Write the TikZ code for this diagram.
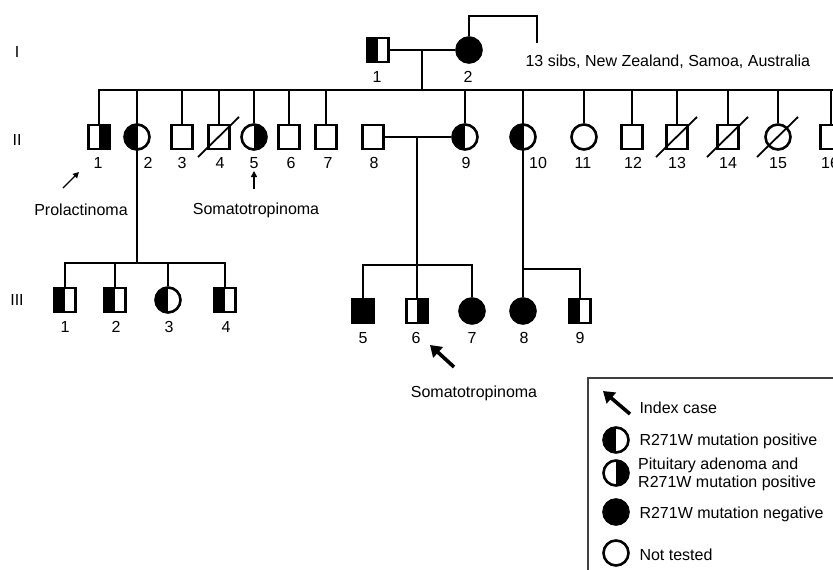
\documentclass[tikz,border=0pt]{standalone}
\usepackage{fontspec}
\setmainfont{Liberation Sans}
\usetikzlibrary{arrows.meta}
\begin{document}
\begin{tikzpicture}[x=1pt,y=-1pt,
  every node/.style={font=\fontsize{16}{18}\selectfont},
  sym/.style={draw=black,line width=2.6pt,inner sep=0pt},
  sq/.style={sym,rectangle,minimum width=21pt,minimum height=24pt},
  ci/.style={sym,circle,minimum size=25pt},
  lhalf/.style={path picture={\fill[black] (path picture bounding box.south west) rectangle (path picture bounding box.north);}},
  rhalf/.style={path picture={\fill[black] (path picture bounding box.south) rectangle (path picture bounding box.north east);}},
  full/.style={fill=black},
  ln/.style={line width=2.2pt},
  slash/.style={line width=1.8pt},
  smallarrow/.style={line width=1.4pt,-{Triangle[length=6pt,width=6pt]}},
  bigarrow/.style={line width=3.6pt,-{Triangle[length=11pt,width=14pt]}},
  legline/.style={line width=2pt,draw=black!75},
]
\useasboundingbox (0,0) rectangle (833,570);

% generation labels
\node (gI) at (17,52) {I};
\node (gII) at (17,140) {II};
\node (gIII) at (17,300) {III};

% ---------- generation I ----------
\node[sq,lhalf] (I1) at (378,50) {};
\node[ci,full] (I2) at (469,50) {};
\node (lI1) at (377,77) {1};
\node (lI2) at (468,77) {2};
\coordinate (mI) at (422,50);
\coordinate (sibL) at (98,90);
\coordinate (sibR) at (840,90);
\coordinate (dI) at (422,90);
\coordinate (sI1) at (469,16);
\coordinate (sI2) at (537,16);
\coordinate (sI3) at (537,43);
\draw[ln] (I1.east) -- (I2.west);
\draw[ln] (mI) -- (dI);
\draw[ln] (I2.north) -- (sI1) -- (sI2) -- (sI3);
\node[anchor=west] (sibs) at (522,62) {13 sibs, New Zealand, Samoa, Australia};

% ---------- generation II ----------
\node[sq,rhalf] (II1) at (99,137) {};
\node[ci,lhalf] (II2) at (137,137) {};
\node[sq] (II3) at (182,137) {};
\node[sq] (II4) at (219,137) {};
\node[ci,rhalf] (II5) at (254,137) {};
\node[sq] (II6) at (289,137) {};
\node[sq] (II7) at (326,137) {};
\node[sq] (II8) at (373,137) {};
\node[ci,lhalf] (II9) at (465,137) {};
\node[ci,lhalf] (II10) at (523,137) {};
\node[ci] (II11) at (584,137) {};
\node[sq] (II12) at (632,137) {};
\node[sq] (II13) at (677,137) {};
\node[sq] (II14) at (728,137) {};
\node[ci] (II15) at (778,137) {};
\node[sq] (II16) at (831,137) {};

\draw[ln] (sibL) -- (sibR);
\draw[ln] (II1.north) -- (II1.north |- sibL);
\draw[ln] (II3.north) -- (II3.north |- sibL);
\draw[ln] (II4.north) -- (II4.north |- sibL);
\draw[ln] (II5.north) -- (II5.north |- sibL);
\draw[ln] (II6.north) -- (II6.north |- sibL);
\draw[ln] (II7.north) -- (II7.north |- sibL);
\draw[ln] (II9.north) -- (II9.north |- sibL);
\draw[ln] (II11.north) -- (II11.north |- sibL);
\draw[ln] (II12.north) -- (II12.north |- sibL);
\draw[ln] (II13.north) -- (II13.north |- sibL);
\draw[ln] (II14.north) -- (II14.north |- sibL);
\draw[ln] (II15.north) -- (II15.north |- sibL);
\draw[ln] (II16.north) -- (II16.north |- sibL);

% deceased slashes
\draw[slash] (II4.center) ++(-21,20) -- ++(41,-40);
\draw[slash] (II13.center) ++(-21,20) -- ++(41,-40);
\draw[slash] (II14.center) ++(-21,20) -- ++(41,-40);
\draw[slash] (II15.center) ++(-21,20) -- ++(41,-40);

% labels II
\node (lII1) at (98,163) {1};
\node (lII2) at (148,163) {2};
\node (lII3) at (182,163) {3};
\node (lII4) at (220,163) {4};
\node (lII5) at (254,163) {5};
\node (lII6) at (291,163) {6};
\node (lII7) at (328,163) {7};
\node (lII8) at (374,163) {8};
\node (lII9) at (466,163) {9};
\node (lII10) at (538,163) {10};
\node (lII11) at (583,163) {11};
\node (lII12) at (633,163) {12};
\node (lII13) at (677,163) {13};
\node (lII14) at (728,163) {14};
\node (lII15) at (778,163) {15};
\node (lII16) at (830,163) {16};

% pointers
\coordinate (pa1) at (63,188);
\coordinate (pa2) at (79,172);
\draw[smallarrow] (pa1) -- (pa2);
\coordinate (pb1) at (254,189);
\coordinate (pb2) at (254,171);
\draw[smallarrow] (pb1) -- (pb2);
\node (prol) at (81,210) {Prolactinoma};
\node (soma1) at (256,210) {Somatotropinoma};

% ---------- generation III, left family ----------
\node[sq,lhalf] (III1) at (65,300) {};
\node[sq,lhalf] (III2) at (115,300) {};
\node[ci,lhalf] (III3) at (168,300) {};
\node[sq,lhalf] (III4) at (225,300) {};
\coordinate (d2) at (137,263);
\draw[ln] (II2.north |- sibL) -- (d2);
\draw[ln] (III1.north) -- (III1.north |- d2) -- (III4.north |- d2) -- (III4.north);
\draw[ln] (III2.north) -- (III2.north |- d2);
\draw[ln] (III3.north) -- (III3.north |- d2);
\node (lIII1) at (65,327) {1};
\node (lIII2) at (116,327) {2};
\node (lIII3) at (169,327) {3};
\node (lIII4) at (226,327) {4};

% ---------- generation III, family of II-8 x II-9 ----------
\node[sq,full] (III5) at (363,311) {};
\node[sq,rhalf] (III6) at (417,311) {};
\node[ci,full] (III7) at (472,311) {};
\coordinate (m89) at (417,137);
\coordinate (s89) at (417,265);
\draw[ln] (II8.east) -- (II9.west);
\draw[ln] (m89) -- (III6.north);
\draw[ln] (III5.north) -- (III5.north |- s89) -- (III7.north |- s89) -- (III7.north);
\node (lIII5) at (363,338) {5};
\node (lIII6) at (416,338) {6};
\node (lIII7) at (472,338) {7};

% ---------- generation III, children of II-10 ----------
\node[ci,full] (III8) at (523,311) {};
\node[sq,lhalf] (III9) at (580,311) {};
\draw[ln] (II10.north |- sibL) -- (III8.north);
\coordinate (b10) at (523,269);
\draw[ln] (b10) -- (b10 -| III9.north) -- (III9.north);
\node (lIII8) at (524,338) {8};
\node (lIII9) at (580,338) {9};

% index case
\coordinate (ia1) at (454,367);
\coordinate (ia2) at (430,345);
\draw[bigarrow] (ia1) -- (ia2);
\node (soma2) at (474,393) {Somatotropinoma};

% ---------- legend ----------
\coordinate (lg1) at (840,378);
\coordinate (lg2) at (588,378);
\coordinate (lg3) at (588,575);
\draw[legline] (lg1) -- (lg2) -- (lg3);
\coordinate (la1) at (630,414);
\coordinate (la2) at (603,391);
\draw[bigarrow] (la1) -- (la2);
\node[anchor=west] (tIdx) at (636,408) {Index case};
\node[ci,lhalf] (kPos) at (616,440) {};
\node[anchor=west] (tPos) at (636,441) {R271W mutation positive};
\node[ci,rhalf] (kPit) at (616,473) {};
\node[anchor=west,align=left,inner sep=2pt] (tPit) at (636,474) {Pituitary adenoma and\\R271W mutation positive};
\node[ci,full] (kNeg) at (616,512) {};
\node[anchor=west] (tNeg) at (636,514) {R271W mutation negative};
\node[ci] (kNot) at (616,553) {};
\node[anchor=west] (tNot) at (636,555) {Not tested};
\end{tikzpicture}
\end{document}
